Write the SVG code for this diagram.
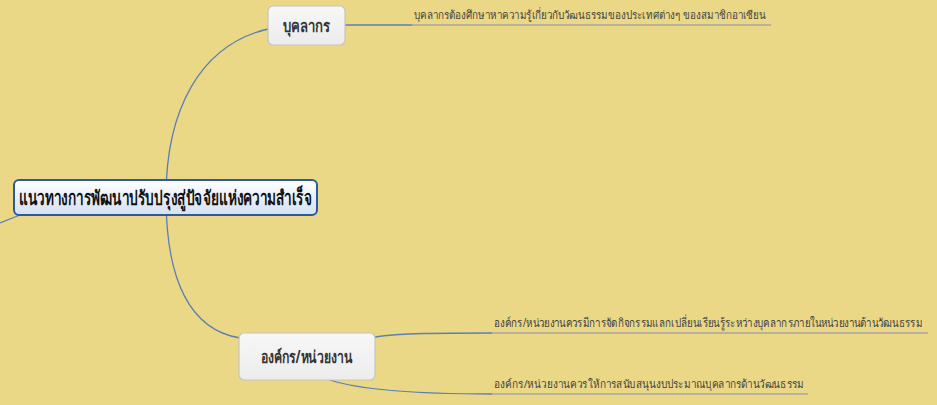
<svg xmlns="http://www.w3.org/2000/svg" width="937" height="405" viewBox="0 0 937 405">
<defs>
<linearGradient id="gc" x1="0" y1="0" x2="0" y2="1"><stop offset="0" stop-color="#ffffff"/><stop offset="1" stop-color="#d4e0f2"/></linearGradient>
<linearGradient id="gs" x1="0" y1="0" x2="0" y2="1"><stop offset="0" stop-color="#f7f7f7"/><stop offset="1" stop-color="#ececec"/></linearGradient>
</defs>
<style>
.bg{fill:#ebd886}
.con{fill:none;stroke:#5b7fb5;stroke-width:1.3}
.ul{fill:none;stroke:#a8a6a0;stroke-width:1.3}
.sub rect{fill:url(#gs);stroke:#c6c4bc;stroke-width:1.2}
.t{font-family:"Noto Sans","DejaVu Sans",sans-serif}
.big{font-size:20px;font-weight:bold;fill:#111}
.mid{font-size:17px;font-weight:bold;fill:#333}
.leaf{font-size:11.5px;fill:#444}
</style>
<rect class="bg" x="0" y="0" width="937" height="405"/>
<g id="connectors">
<path class="con" d="M268,29 C200,45 166,110 166,197 C166,280 190,330 240,338"/>
<path class="con" d="M20,215 L0,223"/>
<path class="con" d="M345,25 L412,25"/>
<path class="ul" d="M412,25 L771,25"/>
<path class="con" d="M375,337 C400,333 440,333 492,333"/>
<path class="ul" d="M492,333 L928,333"/>
<path class="con" d="M330,380 C360,390 420,394 492,394"/>
<path class="ul" d="M492,394 L808,394"/>
</g>
<g id="central">
<rect x="14" y="180" width="303" height="35" rx="5" fill="url(#gc)" stroke="#2d5a9e" stroke-width="2"/>
<text class="t big" x="165.5" y="205" text-anchor="middle" textLength="293" lengthAdjust="spacingAndGlyphs">แนวทางการพัฒนาปรับปรุงสู่ปัจจัยแห่งความสำเร็จ</text>
</g>
<g id="node-personnel" class="sub">
<rect x="268" y="6" width="77" height="39" rx="5"/>
<text class="t mid" x="306.5" y="32" text-anchor="middle" textLength="47" lengthAdjust="spacingAndGlyphs">บุคลากร</text>
</g>
<g id="leaf-personnel">
<text class="t leaf" x="414" y="19" textLength="352" lengthAdjust="spacingAndGlyphs">บุคลากรต้องศึกษาหาความรู้เกี่ยวกับวัฒนธรรมของประเทศต่างๆ ของสมาชิกอาเซียน</text>
</g>
<g id="node-org" class="sub">
<rect x="239" y="333" width="136" height="47" rx="5"/>
<text class="t mid" x="307" y="363" text-anchor="middle" textLength="92" lengthAdjust="spacingAndGlyphs">องค์กร/หน่วยงาน</text>
</g>
<g id="leaf-org-1">
<text class="t leaf" transform="translate(494,327) scale(0.8175,1)" x="0" y="0" style="font-size:12px">องค์กร/หน่วยงานควรมีการจัดกิจกรรมแลกเปลี่ยนเรียนรู้ระหว่างบุคลากรภายในหน่วยงานด้านวัฒนธรรม</text>
</g>
<g id="leaf-org-2">
<text class="t leaf" x="494" y="388" textLength="310" lengthAdjust="spacingAndGlyphs">องค์กร/หน่วยงานควรให้การสนับสนุนงบประมาณบุคลากรด้านวัฒนธรรม</text>
</g>
</svg>
